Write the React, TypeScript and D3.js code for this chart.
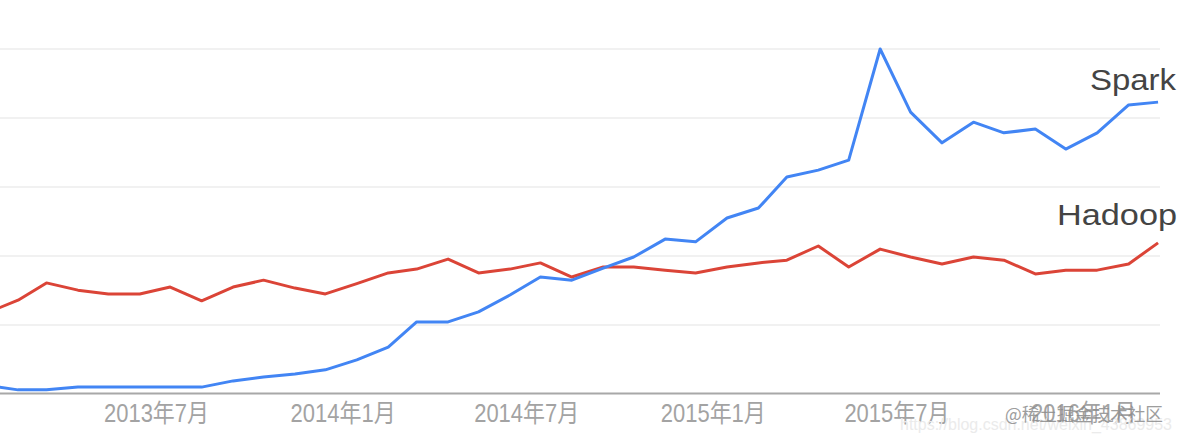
import React from "react";
import * as d3 from "d3";

const months: string[] = [
  "2013-01", "2013-02", "2013-03", "2013-04", "2013-05", "2013-06", "2013-07", "2013-08", "2013-09", "2013-10", "2013-11", "2013-12",
  "2014-01", "2014-02", "2014-03", "2014-04", "2014-05", "2014-06", "2014-07", "2014-08", "2014-09", "2014-10", "2014-11", "2014-12",
  "2015-01", "2015-02", "2015-03", "2015-04", "2015-05", "2015-06", "2015-07", "2015-08", "2015-09", "2015-10", "2015-11", "2015-12",
  "2016-01", "2016-02", "2016-03",
];

const spark: number[] = [
  2.5, 1.2, 1.2, 2, 2, 2, 2, 2, 3.8, 4.9, 5.8, 7,
  9.9, 13.6, 20.9, 20.9, 23.8, 28.7, 33.9, 33, 36.5, 39.7, 44.9, 44.1,
  51, 53.9, 62.9, 64.9, 67.8, 100, 81.7, 72.8, 78.8, 75.7, 76.8, 71,
  75.7, 83.8, 84.6,
];

const hadoop: number[] = [
  23.5, 27.2, 32.2, 30.1, 29, 29, 31, 27, 31, 33, 30.7, 29,
  32, 35.1, 36.2, 39.1, 35.1, 36.2, 38, 33.9, 36.8, 36.8, 35.9, 35.1,
  36.8, 38, 38.8, 42.9, 36.8, 42, 39.7, 37.7, 39.7, 38.8, 34.8, 35.9,
  35.9, 37.7, 43.8,
];

const tickMonths: string[] = ["2013-07", "2014-01", "2014-07", "2015-01", "2015-07", "2016-01"];
const tickLabels: string[] = ["2013年7月", "2014年1月", "2014年7月", "2015年1月", "2015年7月", "2016年1月"];
const gridValues: number[] = [20, 40, 60, 80, 100];

const W = 1181;
const H = 442;
const plotRight = 1160;

const parseMonth = (m: string, day: number) => {
  const [y, mo] = m.split("-").map(Number);
  return new Date(Date.UTC(y, mo - 1, day));
};

export default function App() {
  const x = d3
    .scaleUtc()
    .domain([parseMonth("2013-07", 1), parseMonth("2016-01", 1)])
    .range([156, 1083]);
  const y = d3.scaleLinear().domain([0, 100]).range([394, 49]);

  const line = d3
    .line<number>()
    .x((_, i) => x(parseMonth(months[i], 15)))
    .y((v) => y(v));

  return (
    <div style={{ position: "absolute", left: 0, top: 0 }}>
      <svg width={W} height={H} style={{ display: "block", background: "#fff" }}>
        <defs>
          <clipPath id="plot">
            <rect x={0} y={0} width={plotRight} height={H} />
          </clipPath>
        </defs>
        {gridValues.map((g) => (
          <line key={g} x1={0} x2={plotRight} y1={y(g)} y2={y(g)} stroke="#ececec" strokeWidth={1.5} />
        ))}
        <line x1={0} x2={plotRight} y1={y(0) - 0.5} y2={y(0) - 0.5} stroke="#a8a8a8" strokeWidth={2} />
        <g clipPath="url(#plot)">
          <path d={line(hadoop) || ""} fill="none" stroke="#db4437" strokeWidth={3} strokeLinejoin="round" />
          <path d={line(spark) || ""} fill="none" stroke="#4285f4" strokeWidth={3} strokeLinejoin="round" />
        </g>
        <text x={1176} y={90} textAnchor="end" fontFamily="Liberation Sans, Arial, sans-serif" fontSize={30} fill="#444" textLength={86} lengthAdjust="spacingAndGlyphs">
          Spark
        </text>
        <text x={1177} y={225} textAnchor="end" fontFamily="Liberation Sans, Arial, sans-serif" fontSize={30} fill="#444" textLength={120} lengthAdjust="spacingAndGlyphs">
          Hadoop
        </text>
        {tickMonths.map((m, i) => (
          <text
            key={m}
            x={x(parseMonth(m, 1)) - 52}
            y={422}
            fontFamily="Liberation Sans, Arial, 'Noto Sans CJK SC', sans-serif"
            fontSize={25}
            fill="#a3a3a3"
            textLength={105}
            lengthAdjust="spacingAndGlyphs"
          >
            {tickLabels[i]}
          </text>
        ))}
        <text x={900} y={430} fontFamily="Liberation Sans, Arial, sans-serif" fontSize={16} fill="#ebebeb" textLength={272} lengthAdjust="spacingAndGlyphs">
          https://blog.csdn.net/weixin_43869953
        </text>
        <text x={1005} y={421} fontFamily="'Noto Sans CJK SC', sans-serif" fontSize={18} fill="#8c8c8c" opacity={0.85} textLength={158} lengthAdjust="spacingAndGlyphs">
          @稀土掘金技术社区
        </text>
      </svg>
    </div>
  );
}
